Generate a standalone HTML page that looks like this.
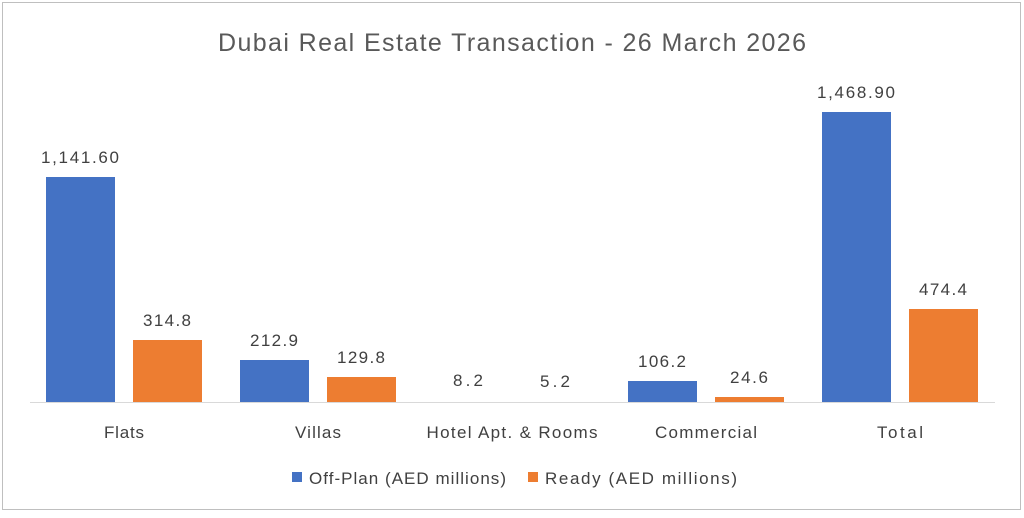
<!DOCTYPE html>
<html><head><style>
body{margin:0;background:#fff;}
svg text{font-family:"Liberation Sans",sans-serif;fill:#404040;}
</style></head><body>
<svg width="1024" height="513" xmlns="http://www.w3.org/2000/svg">
<rect x="2.5" y="2.5" width="1018" height="507" fill="#fff" stroke="#bfbfbf"/>
<text x="512" y="51" font-size="25" text-anchor="middle" style="fill:#595959" textLength="588">Dubai Real Estate Transaction  - 26 March 2026</text>
<line x1="30" y1="402.5" x2="995" y2="402.5" stroke="#d9d9d9"/>
<g fill="#4472c4">
<rect x="46" y="177" width="69" height="225"/>
<rect x="240" y="360" width="69" height="42"/>
<rect x="628" y="381" width="69" height="21"/>
<rect x="822" y="112" width="69" height="290"/>
</g>
<g fill="#ed7d31">
<rect x="133" y="340" width="69" height="62"/>
<rect x="327" y="377" width="69" height="25"/>
<rect x="715" y="397" width="69" height="5"/>
<rect x="909" y="309" width="69" height="93"/>
</g>
<g font-size="17" text-anchor="middle">
<text x="80" y="163" textLength="78">1,141.60</text>
<text x="167" y="326" textLength="48">314.8</text>
<text x="274" y="346" textLength="48">212.9</text>
<text x="361" y="363" textLength="48">129.8</text>
<text x="468" y="386" textLength="30">8.2</text>
<text x="555" y="387" textLength="30">5.2</text>
<text x="662" y="367" textLength="48">106.2</text>
<text x="749" y="383" textLength="38">24.6</text>
<text x="856" y="98" textLength="78">1,468.90</text>
<text x="943" y="295" textLength="48">474.4</text>
<text x="124" y="438" textLength="40">Flats</text>
<text x="318" y="438" textLength="46">Villas</text>
<text x="512" y="438" textLength="171">Hotel Apt. &amp; Rooms</text>
<text x="706" y="438" textLength="102">Commercial</text>
<text x="900" y="438" textLength="46">Total</text>
</g>
<rect x="292" y="472" width="10" height="10" fill="#4472c4"/>
<text x="309" y="484" font-size="17" textLength="197">Off-Plan (AED millions)</text>
<rect x="528" y="472" width="10" height="10" fill="#ed7d31"/>
<text x="545" y="484" font-size="17" textLength="192">Ready (AED millions)</text>
</svg>
</body></html>
